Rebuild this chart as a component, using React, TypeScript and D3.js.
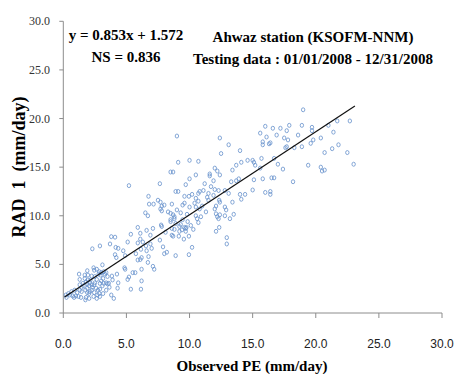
import React from "react";
import * as d3 from "d3";

const observed: number[] = [
  19.0, 22.7, 21.7, 21.0, 18.9, 17.9, 16.0, 16.6, 17.2, 19.7, 19.7, 17.7, 15.6, 18.6, 16.9, 16.1, 17.5, 20.4, 21.4, 12.4,
  9.0, 15.8, 16.4, 15.8, 16.3, 19.8, 19.6, 17.8, 17.7, 17.6, 18.9, 21.8, 13.1, 21.3, 18.3, 14.0, 12.5, 20.7, 22.5, 16.7,
  15.7, 14.6, 15.0, 15.1, 10.7, 10.0, 9.1, 14.1, 17.0, 23.0, 19.4, 15.2, 13.7, 12.0, 15.6, 17.4, 20.4, 20.7, 20.5, 13.4,
  12.2, 8.7, 8.5, 11.6, 11.6, 10.5, 12.4, 16.5, 16.7, 15.8, 15.1, 13.9, 13.7, 13.3, 18.2, 11.9, 10.0, 7.65, 5.2, 11.7,
  9.7, 12.0, 12.3, 10.8, 12.8, 9.1, 8.9, 15.0, 16.0, 16.4, 16.4, 14.4, 14.0, 13.1, 11.9, 10.2, 10.7, 11.5, 6.75, 9.6,
  9.95, 12.35, 11.5, 7.5, 14.1, 10.7, 12.4, 13.4, 7.7, 7.8, 6.8, 7.15, 8.0, 9.45, 8.6, 9.6, 10.4, 10.5, 12.1, 12.0,
  12.8, 12.9, 10.0, 10.8, 7.7, 7.8, 9.0, 8.3, 6.5, 8.5, 8.7, 9.3, 9.8, 12.1, 12.4, 12.2, 12.8, 10.5, 10.6, 13.5,
  6.7, 8.8, 8.5, 8.8, 9.45, 9.85, 13.2, 10.7, 12.3, 7.75, 7.8, 8.5, 8.9, 8.6, 8.8, 9.6, 9.7, 9.4, 9.75, 9.2,
  7.1, 5.9, 9.7, 9.2, 10.3, 12.1, 12.35, 8.6, 8.7, 9.15, 9.95, 12.95, 12.95, 9.55, 10.2, 9.95, 8.9, 8.0, 8.2, 7.9,
  7.65, 6.9, 6.6, 6.1, 6.1, 6.3, 5.9, 5.1, 5.35, 6.55, 7.0, 6.9, 6.15, 6.6, 3.8, 4.1, 3.7, 2.9, 4.15, 4.35,
  2.3, 4.1, 4.2, 4.75, 4.9, 5.75, 6.1, 6.2, 6.75, 6.7, 5.9, 7.1, 7.2, 6.2, 5.5, 5.7, 4.85, 4.9, 5.2, 5.1,
  4.25, 4.35, 4.3, 5.35, 6.15, 6.2, 3.9, 3.85, 3.8, 4.0, 3.1, 2.85, 3.0, 3.4, 2.4, 2.65, 1.25, 1.3, 1.7, 1.95,
  0.2, 0.4, 0.5, 0.25, 0.75, 0.85, 1.0, 1.2, 1.4, 1.75, 1.1, 1.3, 1.45, 1.6, 1.3, 1.75, 1.9, 1.9, 2.05, 2.1,
  2.15, 2.25, 2.3, 2.45, 2.5, 2.65, 2.6, 2.75, 2.7, 2.85, 2.65, 2.4, 2.05, 1.9, 2.9, 3.0, 3.1, 3.2, 3.4, 3.5,
  3.6, 3.15, 2.95, 2.8, 2.5, 2.25, 1.95, 1.7, 1.8, 1.55, 1.9, 2.45, 3.2, 3.3, 3.5, 3.65, 2.9, 2.25, 2.1, 2.45,
  1.45, 0.9, 0.65, 2.9, 3.15, 3.4, 1.8, 2.05,
  10.5, 11.0, 11.3, 10.9, 11.1, 11.2, 9.3, 8.1, 10.1, 11.4
];

const predicted: number[] = [
  20.9, 19.75, 19.75, 19.3, 19.3, 19.3, 19.2, 19.0, 19.0, 19.1, 18.75, 18.75, 18.5, 18.3, 18.3, 18.1, 18.0, 18.0, 18.6, 18.0,
  18.2, 17.6, 17.5, 17.3, 17.4, 17.8, 17.45, 17.8, 17.1, 17.0, 17.1, 17.3, 17.3, 16.9, 17.0, 16.7, 16.4, 16.5, 16.5, 15.9,
  15.9, 15.7, 15.7, 15.5, 15.6, 15.7, 15.5, 15.5, 15.3, 15.3, 15.2, 15.2, 15.2, 14.9, 14.9, 14.8, 15.0, 14.7, 14.6, 14.7,
  14.6, 14.5, 14.5, 14.3, 14.1, 14.2, 14.2, 13.9, 13.9, 13.8, 13.7, 13.8, 13.6, 13.5, 13.5, 13.6, 13.8, 13.3, 13.1, 13.0,
  13.2, 12.7, 12.6, 12.5, 12.6, 12.5, 12.5, 12.65, 12.4, 12.5, 12.2, 12.2, 12.2, 12.3, 12.1, 12.2, 12.3, 12.3, 12.0, 12.0,
  12.0, 11.6, 11.6, 11.6, 11.7, 11.5, 11.4, 11.4, 11.4, 11.0, 11.2, 11.2, 11.1, 11.1, 11.2, 11.3, 11.3, 10.9, 11.0, 10.7,
  10.9, 10.6, 10.9, 10.7, 10.7, 10.5, 10.6, 10.4, 10.3, 10.25, 10.1, 10.3, 10.15, 10.2, 10.1, 9.9, 10.0, 10.0, 9.7, 10.15,
  10.0, 9.9, 9.6, 9.7, 9.6, 9.4, 9.7, 9.3, 9.7, 9.05, 8.9, 9.4, 9.2, 8.7, 8.6, 8.8, 8.7, 8.55, 8.8, 8.9,
  8.7, 8.8, 8.4, 8.4, 8.6, 8.4, 8.8, 8.0, 7.9, 7.9, 7.9, 7.75, 7.1, 7.6, 6.75, 6.0, 5.9, 6.1, 6.25, 6.8,
  7.5, 8.0, 8.5, 8.2, 7.6, 7.3, 7.2, 7.3, 8.1, 6.9, 6.65, 7.1, 6.55, 6.4, 7.85, 7.8, 7.1, 6.9, 6.75, 6.65,
  6.6, 6.0, 5.7, 6.4, 5.9, 6.1, 5.5, 5.7, 5.8, 5.2, 5.45, 4.8, 4.5, 4.5, 4.15, 4.15, 4.65, 4.5, 3.7, 3.45,
  4.0, 3.1, 2.55, 2.45, 2.45, 3.3, 3.4, 3.8, 1.85, 1.5, 4.95, 4.25, 4.15, 4.15, 4.65, 4.5, 4.0, 3.45, 3.9, 3.4,
  1.85, 2.0, 1.85, 1.6, 1.75, 1.6, 1.75, 1.7, 1.6, 1.35, 2.1, 2.35, 2.65, 2.8, 2.9, 2.35, 2.55, 3.0, 2.8, 3.1,
  3.4, 2.9, 2.65, 2.9, 3.1, 3.45, 2.55, 2.35, 1.85, 2.0, 1.5, 1.7, 2.0, 2.1, 3.05, 3.3, 2.8, 3.05, 3.1, 3.0,
  3.05, 3.55, 3.9, 4.0, 3.75, 3.8, 3.9, 3.55, 3.2, 3.05, 4.35, 4.4, 4.25, 4.0, 3.75, 2.65, 2.45, 2.35, 2.2, 2.1,
  2.2, 2.35, 2.2, 1.7, 2.0, 2.35, 1.6, 1.5,
  11.8, 11.0, 10.4, 9.9, 12.6, 13.3, 9.1, 8.3, 9.0, 11.9
];

const xTicks: number[] = [0, 5, 10, 15, 20, 25, 30];
const yTicks: number[] = [0, 5, 10, 15, 20, 25, 30];
const slope = 0.853;
const intercept = 1.572;
const fitRange: number[] = [0.1, 23.1];

const equationText = "y = 0.853x + 1.572";
const nsText = "NS = 0.836";
const titleLine1 = "Ahwaz station (KSOFM-NNM)";
const titleLine2 = "Testing data : 01/01/2008 - 12/31/2008";
const xLabel = "Observed PE (mm/day)";
const yLabel = "RAD  1  (mm/day)";

export default function App() {
  const W = 455;
  const H = 374;
  const x = d3.scaleLinear().domain([0, 30]).range([63.3, 442]);
  const y = d3.scaleLinear().domain([0, 30]).range([313, 21.3]);
  const points = observed.map((o, i) => [o, predicted[i]] as [number, number]);
  const fitLine = d3
    .line<number>()
    .x((d) => x(d))
    .y((d) => y(slope * d + intercept));
  const axisColor = "#8c8c8c";
  const serif = "'Liberation Serif', 'Times New Roman', serif";
  const sans = "'Liberation Sans', Arial, sans-serif";

  return (
    <svg
      width={W}
      height={H}
      style={{ position: "absolute", left: 0, top: 0, background: "#fff" }}
    >
      <line x1={x(0)} x2={x(30)} y1={y(0)} y2={y(0)} stroke={axisColor} strokeWidth={1} />
      <line x1={x(0)} x2={x(0)} y1={y(0)} y2={y(30)} stroke={axisColor} strokeWidth={1} />
      {xTicks.map((t) => (
        <g key={"xt" + t}>
          <line x1={x(t)} x2={x(t)} y1={y(0)} y2={y(0) + 5} stroke={axisColor} />
          <text x={x(t)} y={348} textAnchor="middle" fontFamily={sans} fontSize={12} fill="#222">
            {d3.format(".1f")(t)}
          </text>
        </g>
      ))}
      {yTicks.map((t) => (
        <g key={"yt" + t}>
          <line x1={x(0) - 4} x2={x(0)} y1={y(t)} y2={y(t)} stroke={axisColor} />
          <text x={50} y={y(t) + 4} textAnchor="end" fontFamily={serif} fontSize={12} fill="#333">
            {d3.format(".1f")(t)}
          </text>
        </g>
      ))}
      {points.map((p, i) => (
        <ellipse
          key={i}
          cx={x(p[0])}
          cy={y(p[1])}
          rx={1.7}
          ry={2}
          fill="none"
          stroke="#6690cc"
          strokeWidth={0.8}
        />
      ))}
      <path d={fitLine(fitRange) || ""} stroke="#111" strokeWidth={1.2} fill="none" />
      <text x={126} y={40} textAnchor="middle" fontFamily={serif} fontWeight="bold" fontSize={15}>
        {equationText}
      </text>
      <text x={126} y={62} textAnchor="middle" fontFamily={serif} fontWeight="bold" fontSize={15}>
        {nsText}
      </text>
      <text x={313} y={42} textAnchor="middle" fontFamily={serif} fontWeight="bold" fontSize={15}>
        {titleLine1}
      </text>
      <text x={313} y={64} textAnchor="middle" fontFamily={serif} fontWeight="bold" fontSize={15}>
        {titleLine2}
      </text>
      <text x={252} y={371} textAnchor="middle" fontFamily={serif} fontWeight="bold" fontSize={15}>
        {xLabel}
      </text>
      <text
        transform={`translate(25,167) rotate(-90)`}
        textAnchor="middle"
        fontFamily={serif}
        fontWeight="bold"
        fontSize={18}
        style={{ whiteSpace: "pre" }}
      >
        {yLabel}
      </text>
    </svg>
  );
}
